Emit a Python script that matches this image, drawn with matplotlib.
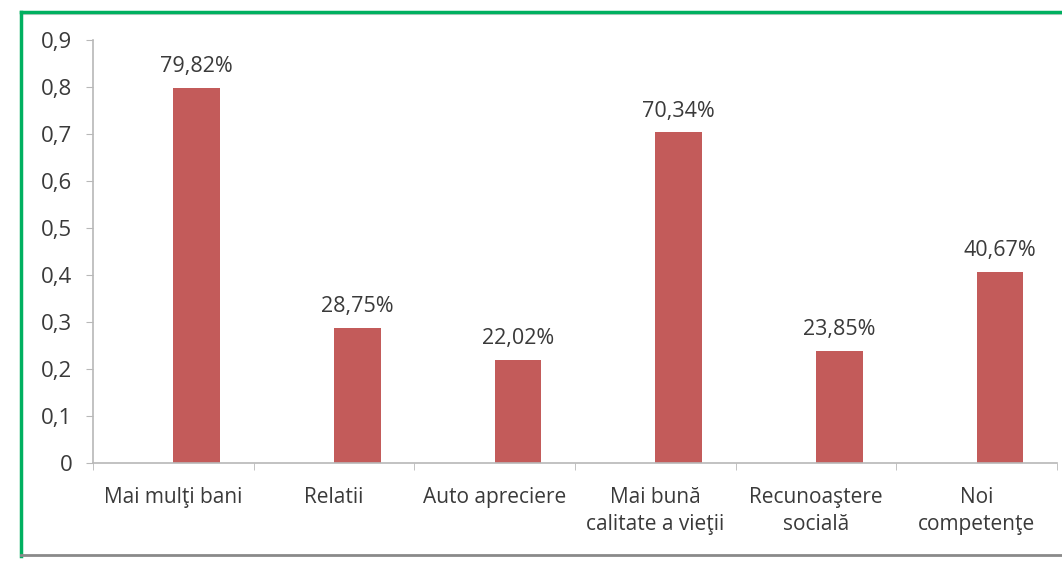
import matplotlib.pyplot as plt
from matplotlib.lines import Line2D
import numpy as np

categories = ["Mai mulţi bani", "Relatii", "Auto apreciere",
              "Mai bună\ncalitate a vieţii", "Recunoaştere\nsocială", "Noi\ncompetenţe"]
values = [0.7982, 0.2875, 0.2202, 0.7034, 0.2385, 0.4067]
labels = ["79,82%", "28,75%", "22,02%", "70,34%", "23,85%", "40,67%"]
yticks = [0, 0.1, 0.2, 0.3, 0.4, 0.5, 0.6, 0.7, 0.8, 0.9]
ytick_labels = ["0", "0,1", "0,2", "0,3", "0,4", "0,5", "0,6", "0,7", "0,8", "0,9"]

plt.rcParams['font.family'] = ['Open Sans', 'DejaVu Sans']
txt = '#3a3a3a'
axc = '#b8b8b8'

fig = plt.figure(figsize=(10.62, 5.63), dpi=100)
ax = fig.add_axes([0.0876, 0.1776, 0.9077, 0.7514])

x = np.arange(len(categories))
bw = 0.29
ax.bar(x, values, width=bw, align='edge', color='#C35B5A')

for xi, v, lab in zip(x, values, labels):
    ax.text(xi + bw / 2, v + 0.023, lab, ha='center', va='bottom',
            fontsize=15.5, color=txt)

ax.set_xlim(-0.5, len(categories) - 0.5)
ax.set_ylim(0, 0.9)
ax.set_yticks(yticks)
ax.set_yticklabels(ytick_labels, fontsize=16, color=txt)

# category labels at centers, tick marks at boundaries
ax.set_xticks(x)
ax.set_xticklabels(categories, fontsize=15, color=txt, linespacing=1.4, va='top')
ax.tick_params(axis='x', which='major', length=0, pad=17)
ax.set_xticks(np.arange(-0.5, len(categories)), minor=True)
ax.tick_params(axis='x', which='minor', length=5, color=axc, direction='out')
ax.tick_params(axis='y', length=5, color=axc, pad=10)

for s in ['top', 'right']:
    ax.spines[s].set_visible(False)
for s in ['left', 'bottom']:
    ax.spines[s].set_color(axc)
    ax.spines[s].set_linewidth(1.2)

# frame around the chart
W, H = 1062, 563
def fx(p): return p / W
def fy(p): return 1 - p / H
fig.add_artist(Line2D([fx(21), 1], [fy(14), fy(14)], color='#d0d0d0', lw=1.5))
fig.add_artist(Line2D([fx(21), 1], [fy(12), fy(12)], color='#00B060', lw=2.5))
fig.add_artist(Line2D([fx(21), fx(21)], [fy(12), fy(556)], color='#00B060', lw=2.5))
fig.add_artist(Line2D([fx(21), 1], [fy(555), fy(555)], color='#8a8a8a', lw=2))

fig.savefig("out.png", dpi=100)
